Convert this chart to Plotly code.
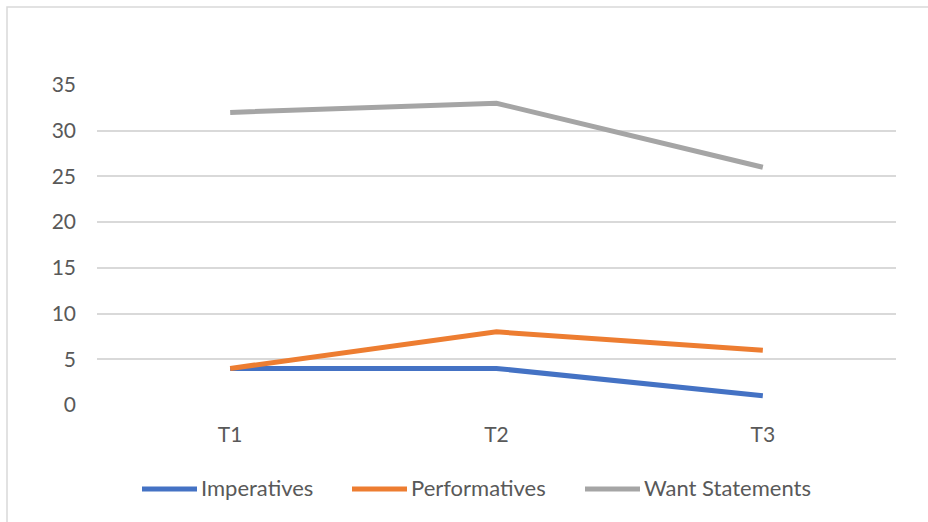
import plotly.graph_objects as go

periods = ["T1", "T2", "T3"]
imperatives = [4, 4, 1]
performatives = [4, 8, 6]
want_statements = [32, 33, 26]

series_names = ["Imperatives", "Performatives", "Want Statements"]
series_values = [imperatives, performatives, want_statements]
series_colors = ["#4472C4", "#ED7D31", "#A5A5A5"]

W, H = 928, 522
ML, MR, MT, MB = 97, 32, 85, 117
pw, ph = W - ML - MR, H - MT - MB


def px_x(px):
    return (px - ML) / pw


def px_y(py):
    return (H - MB - py) / ph


fig = go.Figure()
for name, vals, color in zip(series_names, series_values, series_colors):
    fig.add_trace(go.Scatter(
        x=periods, y=vals, name=name, mode="lines",
        line=dict(color=color, width=5),
        showlegend=False,
    ))

# outer chart border (light gray frame)
fig.add_shape(
    type="rect", xref="paper", yref="paper",
    x0=px_x(7), x1=px_x(W + 20), y0=px_y(H + 20), y1=px_y(7),
    line=dict(color="#D9D9D9", width=1.5), fillcolor="rgba(0,0,0,0)",
    layer="below",
)

# legend row below the plot: swatch line + label per series
legend_y = 489
legend_starts = [142, 352, 585]
swatch_len = 55
for name, color, x0 in zip(series_names, series_colors, legend_starts):
    fig.add_shape(
        type="line", xref="paper", yref="paper",
        x0=px_x(x0), x1=px_x(x0 + swatch_len),
        y0=px_y(legend_y), y1=px_y(legend_y),
        line=dict(color=color, width=5),
    )
    fig.add_annotation(
        xref="paper", yref="paper",
        x=px_x(x0 + swatch_len + 2), y=px_y(legend_y - 1.5),
        xanchor="left", yanchor="middle", showarrow=False,
        text=name, font=dict(size=22, color="#595959"),
    )

fig.update_layout(
    width=W, height=H,
    margin=dict(l=ML, r=MR, t=MT, b=MB),
    paper_bgcolor="white", plot_bgcolor="white",
    font=dict(family="Lato, Carlito, Calibri, sans-serif", size=21, color="#595959"),
    showlegend=False,
    xaxis=dict(
        type="category", range=[-0.5, 2.5],
        showgrid=False, zeroline=False, showline=False,
        ticks="", ticklabelstandoff=15,
    ),
    yaxis=dict(
        range=[0, 35], dtick=5, tick0=0,
        showgrid=True, gridcolor="#D9D9D9", gridwidth=1.5,
        zeroline=False, showline=False,
        ticks="", ticklabelstandoff=20,
    ),
)

fig.write_html("out.html")
